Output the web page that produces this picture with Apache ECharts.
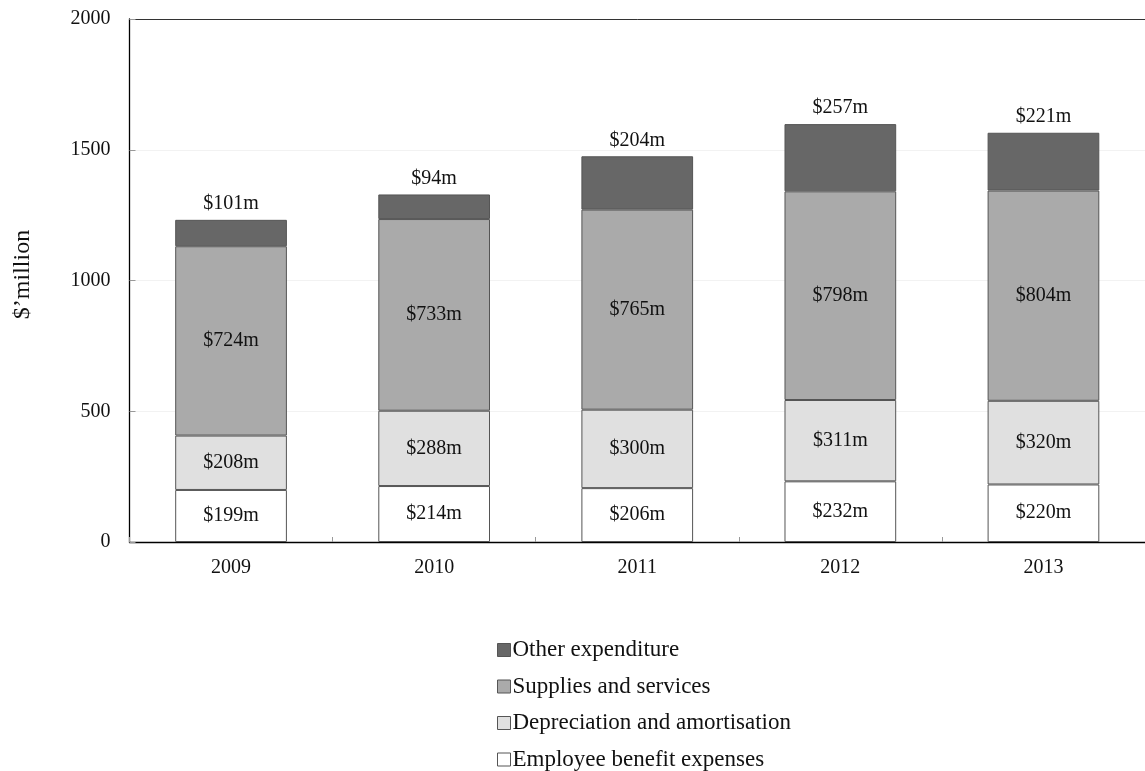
<!DOCTYPE html>
<html>
<head>
<meta charset="utf-8">
<title>Expenditure by category</title>
<script src="https://cdn.jsdelivr.net/npm/echarts@6/dist/echarts.min.js"></script>
<style>
  html, body { margin: 0; padding: 0; background: #fff; }
  #chart { width: 1145px; height: 771px; }
</style>
</head>
<body>
<div id="chart"></div>
<script>
// Expenditure by category, $ million
const years = ['2009', '2010', '2011', '2012', '2013'];
const employeeBenefit = [199, 214, 206, 232, 220];
const depreciation = [208, 288, 300, 311, 320];
const supplies = [724, 733, 765, 798, 804];
const otherExpenditure = [101, 94, 204, 257, 221];
const yTicks = [0, 500, 1000, 1500, 2000];

const FONT = '"Liberation Serif", "Times New Roman", serif';

const chart = echarts.init(document.getElementById('chart'), null, { renderer: 'canvas' });

function barSeries(name, data, color, labelPos) {
  return {
    name: name,
    type: 'bar',
    stack: 'total',
    data: data,
    barWidth: '55%',
    itemStyle: { color: color, borderColor: '#555', borderWidth: 1 },
    label: {
      show: true,
      position: labelPos,
      distance: 6,
      formatter: p => '$' + p.value + 'm',
      color: '#111',
      fontFamily: FONT,
      fontSize: 20
    },
    emphasis: { disabled: true }
  };
}

chart.setOption({
  animation: false,
  backgroundColor: '#fff',
  textStyle: { fontFamily: FONT },
  grid: { left: 129.5, right: -4, top: 19, bottom: 229, containLabel: false },
  legend: {
    type: 'plain',
    orient: 'vertical',
    left: 492,
    top: 633,
    height: 200,
    itemWidth: 13,
    itemHeight: 13,
    itemGap: 12.5,
    icon: 'rect',
    data: ['Other expenditure', 'Supplies and services', 'Depreciation and amortisation', 'Employee benefit expenses'],
    itemStyle: { borderColor: '#555', borderWidth: 1 },
    textStyle: { fontFamily: FONT, fontSize: 23, lineHeight: 24, color: '#111', padding: [0, 0, 0, -3] }
  },
  xAxis: [
    {
      type: 'category',
      data: years,
      axisLine: { show: true, lineStyle: { color: '#000', width: 1.3 } },
      axisTick: { show: true, inside: true, length: 5, lineStyle: { color: '#999' } },
      axisLabel: { fontFamily: FONT, fontSize: 20, color: '#111', margin: 16 }
    },
    {
      type: 'category',
      position: 'top',
      data: years,
      axisLine: { show: true, lineStyle: { color: '#333', width: 1 } },
      axisTick: { show: false },
      axisLabel: { show: false }
    }
  ],
  yAxis: {
    type: 'value',
    min: yTicks[0],
    max: yTicks[yTicks.length - 1],
    interval: yTicks[1] - yTicks[0],
    name: '$\u2019million',
    nameLocation: 'middle',
    nameGap: 95,
    nameTextStyle: { fontFamily: FONT, fontSize: 24, color: '#111', padding: [0, 0, 0, 12] },
    axisLine: { show: true, lineStyle: { color: '#000', width: 1.3 } },
    axisTick: { show: true, inside: true, length: 6, lineStyle: { color: '#999' } },
    axisLabel: { fontFamily: FONT, fontSize: 20, color: '#111', margin: 19, formatter: v => String(v) },
    splitLine: { show: true, lineStyle: { color: '#f2f2f2' } }
  },
  series: [
    barSeries('Employee benefit expenses', employeeBenefit, '#ffffff', 'inside'),
    barSeries('Depreciation and amortisation', depreciation, '#e0e0e0', 'inside'),
    barSeries('Supplies and services', supplies, '#aaaaaa', 'inside'),
    barSeries('Other expenditure', otherExpenditure, '#676767', 'top')
  ]
});
</script>
</body>
</html>
